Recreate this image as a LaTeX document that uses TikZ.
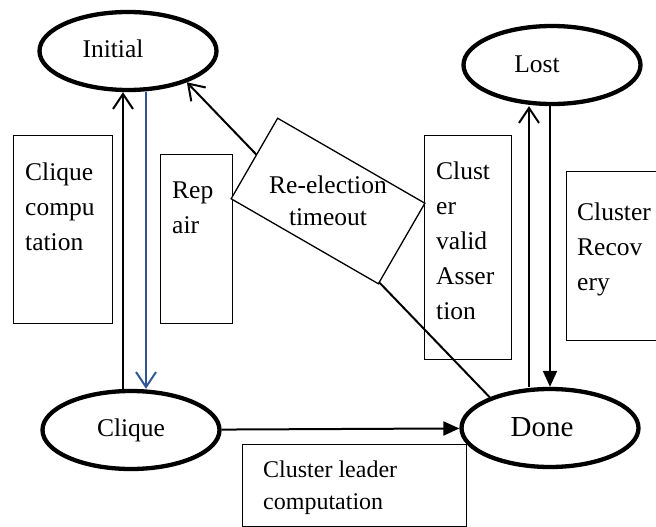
\documentclass[tikz,border=0pt]{standalone}
\usepackage{fontspec}
\setmainfont{Liberation Serif}
\usetikzlibrary{shapes.geometric,arrows.meta}
\definecolor{repblue}{RGB}{47,85,151}

\begin{document}
\begin{tikzpicture}[x=1pt,y=-1pt,>={Straight Barb[length=15pt,width=20pt]},
  state/.style={draw,ellipse,line width=4.3pt,minimum width=177pt,minimum height=78pt,font=\fontsize{25.5}{35}\selectfont},
  taskbox/.style={draw,rectangle,line width=1.3pt,inner sep=0pt,anchor=north west},
  tasktext/.style={anchor=north west,align=left,inner sep=0pt,font=\fontsize{25.5}{35}\selectfont},
  arr/.style={line width=2pt}]
\useasboundingbox (0,0) rectangle (656,527);
% states
\node (initial) at (128,51) [state] {\hspace*{-30pt}\raisebox{4pt}{Initial}};
\node (lost) at (552,65) [state] {\hspace*{-30pt}\raisebox{2pt}{Lost}};
\node (clique) at (131,430) [state] {Clique};
\node (done) at (550,428) [state,font=\fontsize{29}{35}\selectfont] {\hspace*{-16pt}\raisebox{2pt}{Done}};
% activity boxes
\node (cliquebox) at (13,135) [taskbox,minimum width=99pt,minimum height=188pt] {};
\node (cliquetxt) at ([xshift=12pt,yshift=-28pt]cliquebox.north west) [tasktext] {Clique\\compu\\tation};
\node (repbox) at (160,154) [taskbox,minimum width=72pt,minimum height=169pt] {};
\node (reptxt) at ([xshift=12pt,yshift=-28pt]repbox.north west) [tasktext] {Rep\\air};
\node (assertbox) at (424,135) [taskbox,minimum width=87pt,minimum height=224pt] {};
\node (asserttxt) at ([xshift=12pt,yshift=-27pt]assertbox.north west) [tasktext] {Clust\\er\\valid\\Asser\\tion};
\node (recbox) at (566,171) [taskbox,minimum width=100pt,minimum height=169pt] {};
\node (rectxt) at ([xshift=11pt,yshift=-32pt]recbox.north west) [tasktext] {Cluster\\Recov\\ery};
\node (leaderbox) at (242,444) [taskbox,minimum width=224pt,minimum height=82pt] {};
\node (leadertxt) at ([xshift=21pt,yshift=-17pt]leaderbox.north west) [tasktext,font=\fontsize{24}{32}\selectfont] {Cluster leader\\computation};
% transitions
\draw[->,arr] ([xshift=-8pt]clique.north) -- ([xshift=-5pt]initial.south);
\draw[->,line width=2pt,draw=repblue] ([xshift=18pt]initial.south) -- ([xshift=15pt]clique.north);
\draw[-{Triangle[length=16pt,width=14pt]},arr] (clique) -- (done);
\draw[->,arr] ([xshift=-21pt]done.north) -- ([xshift=-23pt]lost.south);
\draw[-{Triangle[length=16pt,width=14pt]},arr] ([xshift=-2pt]lost.south) -- (done.north);
\draw[->,arr] (done.153) -- (initial.-28);
% re-election label over the line
\node (reshape) at (328,201) [draw,fill=white,line width=1.3pt,rotate=-30,minimum width=170pt,minimum height=93pt] {};
\node (retxt) at (reshape.center) [align=center,font=\fontsize{25.5}{32}\selectfont] {Re-election\\timeout};
\end{tikzpicture}
\end{document}
